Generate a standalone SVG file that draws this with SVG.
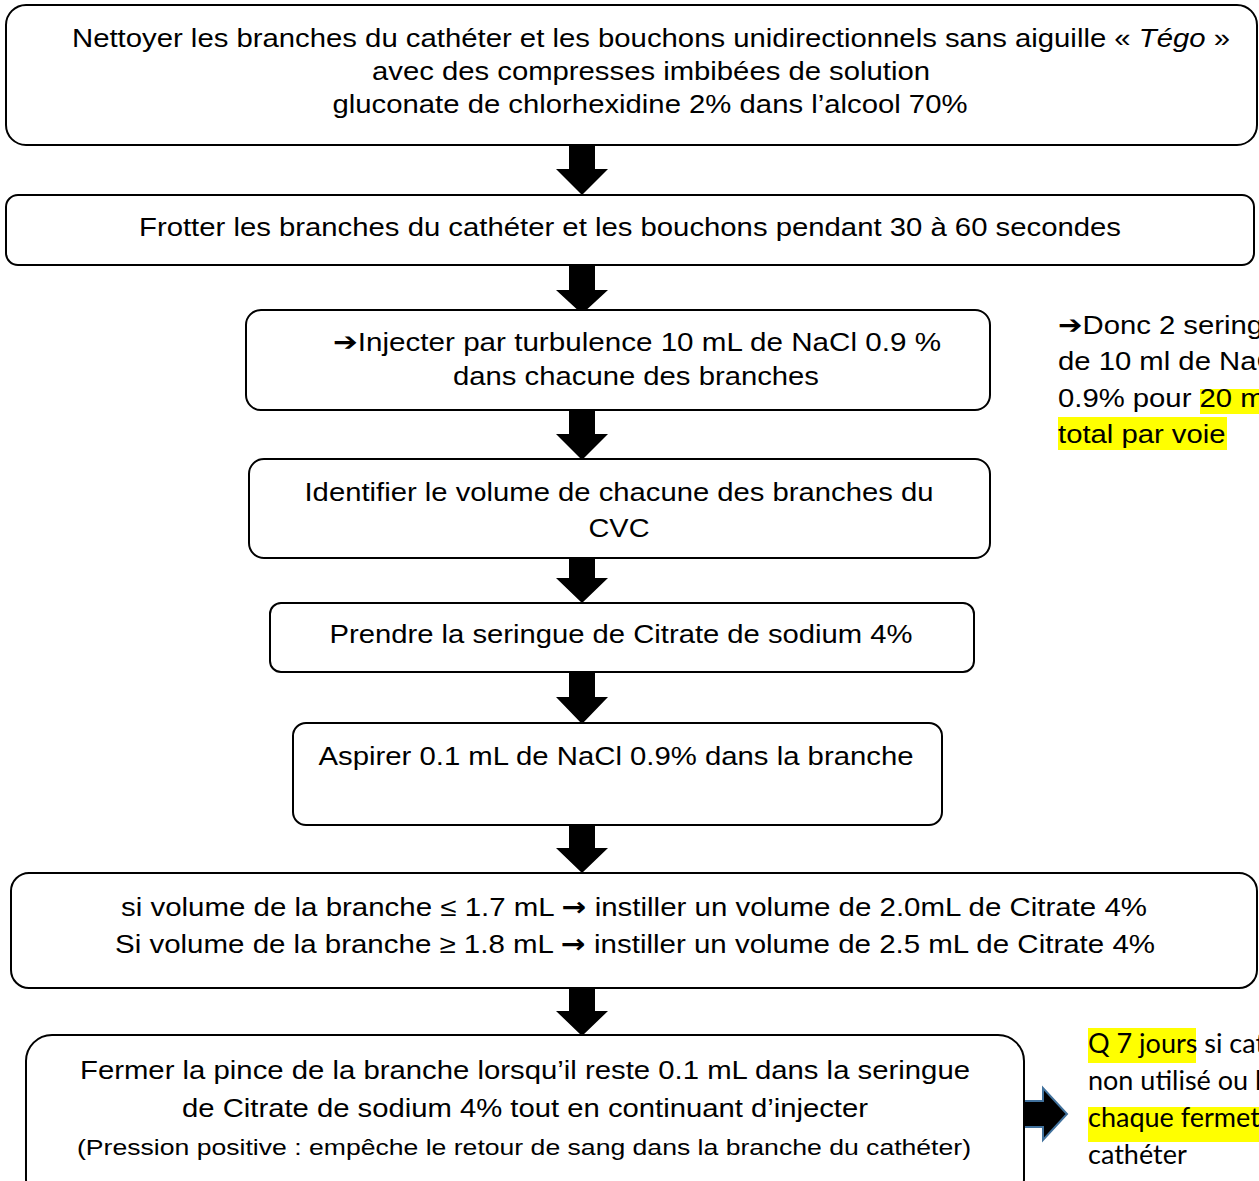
<svg xmlns="http://www.w3.org/2000/svg" width="1259" height="1181" viewBox="0 0 1259 1181">
<style>
.box{fill:#fff;stroke:#000;stroke-width:2}
.t{font-family:"Liberation Sans",Arial,sans-serif;font-size:26px;fill:#000}
.c{text-anchor:middle}
.s{font-size:22px}
.sym{font-family:"DejaVu Sans",sans-serif;font-weight:bold}
.n2{font-family:Lato,"Liberation Sans",sans-serif;font-size:27px;fill:#000}
.arr{fill:#000}
.hl{fill:#ffff00}
</style>
<rect width="1259" height="1181" fill="#fff"/>
<g id="connectors">
<polygon class="arr" points="569,145 595,145 595,169 608,169 582,195 556,169 569,169"/>
<polygon class="arr" points="569,265 595,265 595,290 608,290 582,314 556,290 569,290"/>
<polygon class="arr" points="569,410 595,410 595,434 608,434 582,460 556,434 569,434"/>
<polygon class="arr" points="569,553 595,553 595,578 608,578 582,603 556,578 569,578"/>
<polygon class="arr" points="569,673 595,673 595,697 608,697 582,724 556,697 569,697"/>
<polygon class="arr" points="569,823 595,823 595,848 608,848 582,873 556,848 569,848"/>
<polygon class="arr" points="569,987 595,987 595,1011 608,1011 582,1036 556,1011 569,1011"/>
<polygon points="1002,1101 1043,1101 1043,1088 1067,1114 1043,1140 1043,1127 1002,1127" fill="#000" stroke="#41719C" stroke-width="2"/>
</g>
<g id="n1">
<rect class="box" x="6" y="5" width="1251" height="140" rx="20"/>
<text class="t c" x="651" y="47" textLength="1158" lengthAdjust="spacingAndGlyphs">Nettoyer les branches du cathéter et les bouchons unidirectionnels sans aiguille « <tspan font-style="italic">Tégo</tspan> »</text>
<text class="t c" x="651" y="80" textLength="558" lengthAdjust="spacingAndGlyphs">avec des compresses imbibées de solution</text>
<text class="t c" x="650" y="113" textLength="635" lengthAdjust="spacingAndGlyphs">gluconate de chlorhexidine 2% dans l’alcool 70%</text>
</g>
<g id="n2">
<rect class="box" x="6" y="195" width="1248" height="70" rx="12"/>
<text class="t c" x="630" y="236" textLength="982" lengthAdjust="spacingAndGlyphs">Frotter les branches du cathéter et les bouchons pendant 30 à 60 secondes</text>
</g>
<g id="n3">
<rect class="box" x="246" y="310" width="744" height="100" rx="15"/>
<text class="t c" x="637" y="351" textLength="608" lengthAdjust="spacingAndGlyphs"><tspan class="sym">➔</tspan>Injecter par turbulence 10 mL de NaCl 0.9 %</text>
<text class="t c" x="636" y="385" textLength="366" lengthAdjust="spacingAndGlyphs">dans chacune des branches</text>
</g>
<g id="n4">
<rect class="box" x="249" y="459" width="741" height="99" rx="15"/>
<text class="t c" x="619" y="501" textLength="629" lengthAdjust="spacingAndGlyphs">Identifier le volume de chacune des branches du</text>
<text class="t c" x="619" y="537" textLength="61" lengthAdjust="spacingAndGlyphs">CVC</text>
</g>
<g id="n5">
<rect class="box" x="270" y="603" width="704" height="69" rx="11"/>
<text class="t c" x="621" y="643" textLength="583" lengthAdjust="spacingAndGlyphs">Prendre la seringue de Citrate de sodium 4%</text>
</g>
<g id="n6">
<rect class="box" x="293" y="723" width="649" height="102" rx="13"/>
<text class="t c" x="616" y="765" textLength="595" lengthAdjust="spacingAndGlyphs">Aspirer 0.1 mL de NaCl 0.9% dans la branche</text>
</g>
<g id="n7">
<rect class="box" x="11" y="873" width="1246" height="115" rx="18"/>
<text class="t c" x="634" y="916" textLength="1026" lengthAdjust="spacingAndGlyphs">si volume de la branche ≤ 1.7 mL <tspan class="sym">→</tspan> instiller un volume de 2.0mL de Citrate 4%</text>
<text class="t c" x="635" y="953" textLength="1040" lengthAdjust="spacingAndGlyphs">Si volume de la branche ≥ 1.8 mL <tspan class="sym">→</tspan> instiller un volume de 2.5 mL de Citrate 4%</text>
</g>
<g id="n8">
<rect class="box" x="26" y="1035" width="998" height="170" rx="26"/>
<text class="t c" x="525" y="1079" textLength="890" lengthAdjust="spacingAndGlyphs">Fermer la pince de la branche lorsqu’il reste 0.1 mL dans la seringue</text>
<text class="t c" x="525" y="1117" textLength="686" lengthAdjust="spacingAndGlyphs">de Citrate de sodium 4% tout en continuant d’injecter</text>
<text class="t c s" x="524" y="1155" textLength="894" lengthAdjust="spacingAndGlyphs">(Pression positive : empêche le retour de sang dans la branche du cathéter)</text>
</g>
<g id="note1">
<rect class="hl" x="1200" y="389" width="59" height="25"/>
<rect class="hl" x="1058" y="417" width="169" height="33"/>
<g transform="translate(1058,0) scale(1.126,1)">
<text class="t" x="0" y="334"><tspan class="sym">➔</tspan>Donc 2 sering</text>
<text class="t" x="0" y="370">de 10 ml de NaC</text>
<text class="t" x="0" y="407">0.9% pour 20 m</text>
<text class="t" x="0" y="443">total par voie</text>
</g>
</g>
<g id="note2">
<rect class="hl" x="1088" y="1028" width="108" height="35"/>
<rect class="hl" x="1088" y="1107" width="171" height="35"/>
<text class="n2" x="1088" y="1053">Q 7 jours si cat</text>
<text class="n2" x="1088" y="1090">non utilisé ou l</text>
<text class="n2" x="1088" y="1127">chaque fermet</text>
<text class="n2" x="1088" y="1164">cathéter</text>
</g>
</svg>
